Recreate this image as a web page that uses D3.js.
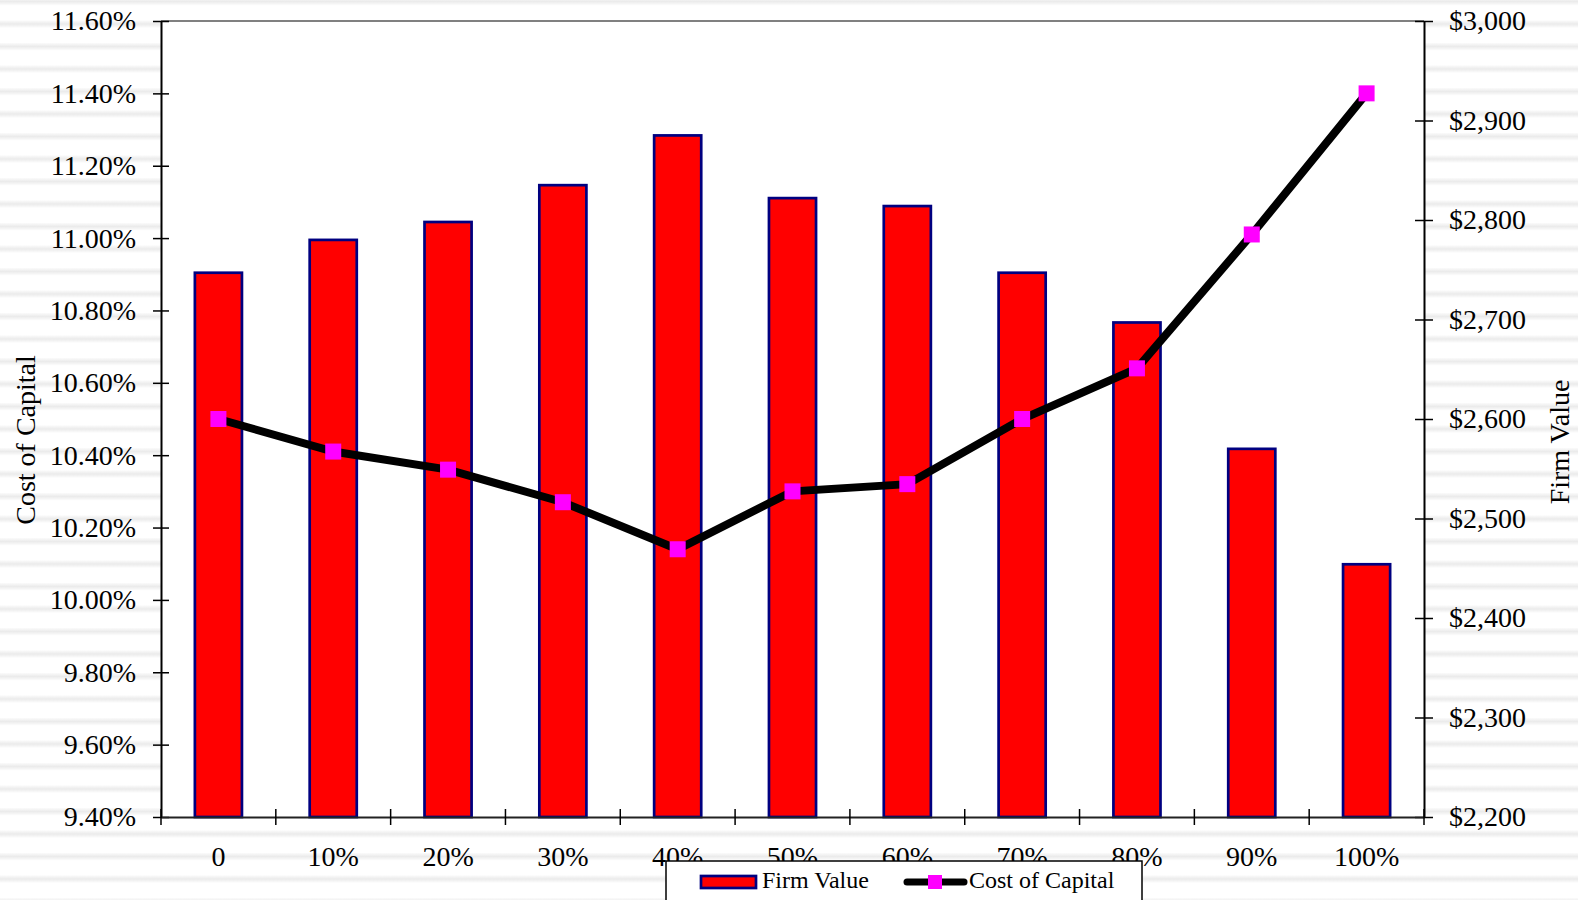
<!DOCTYPE html>
<html>
<head>
<meta charset="utf-8">
<script src="https://d3js.org/d3.v7.min.js"></script>
<style>
  html, body { margin: 0; padding: 0; background: #fff; }
  svg { display: block; }
  svg text { font-family: "Liberation Serif", "Times New Roman", serif; }
</style>
</head>
<body>
<div id="chart"></div>
<script>
// chart values
const categories = ["0", "10%", "20%", "30%", "40%", "50%", "60%", "70%", "80%", "90%", "100%"];
const firmValue = [2747, 2780, 2798, 2835, 2885, 2822, 2814, 2747, 2697, 2570, 2454];
const costOfCapital = [10.50, 10.41, 10.36, 10.27, 10.14, 10.30, 10.32, 10.50, 10.64, 11.01, 11.40];
const leftTicks = [9.4, 9.6, 9.8, 10.0, 10.2, 10.4, 10.6, 10.8, 11.0, 11.2, 11.4, 11.6];
const rightTicks = [2200, 2300, 2400, 2500, 2600, 2700, 2800, 2900, 3000];

const width = 1578, height = 900;
const plot = { left: 161, right: 1424, top: 21, bottom: 817 };
const serif = '"Liberation Serif", "Times New Roman", serif';

const svg = d3.select("#chart").append("svg")
    .attr("width", width)
    .attr("height", height);

// striped backdrop
const defs = svg.append("defs");
const grad = defs.append("linearGradient")
    .attr("id", "stripeGrad").attr("x1", 0).attr("y1", 0).attr("x2", 0).attr("y2", 1);
grad.append("stop").attr("offset", "0%").attr("stop-color", "#fbfbfb");
grad.append("stop").attr("offset", "50%").attr("stop-color", "#ebebeb");
grad.append("stop").attr("offset", "100%").attr("stop-color", "#fbfbfb");
const pat = defs.append("pattern")
    .attr("id", "stripes").attr("patternUnits", "userSpaceOnUse")
    .attr("x", 0).attr("y", -2).attr("width", 40).attr("height", 22.5);
pat.append("rect").attr("width", 40).attr("height", 22.5).attr("fill", "#ffffff");
pat.append("rect").attr("y", 0).attr("width", 40).attr("height", 7).attr("fill", "url(#stripeGrad)");
svg.append("rect").attr("width", width).attr("height", height).attr("fill", "url(#stripes)");

// plot area
svg.append("rect")
    .attr("x", plot.left).attr("y", plot.top)
    .attr("width", plot.right - plot.left).attr("height", plot.bottom - plot.top)
    .attr("fill", "#ffffff");

const x = d3.scaleBand().domain(categories).range([plot.left, plot.right]).padding(0);
const yLeft = d3.scaleLinear().domain([9.4, 11.6]).range([plot.bottom, plot.top]);
const yRight = d3.scaleLinear().domain([2200, 3000]).range([plot.bottom, plot.top]);

const barW = x.bandwidth() * 0.41;

// bars
svg.append("g").selectAll("rect")
    .data(firmValue)
    .enter().append("rect")
    .attr("x", (d, i) => x(categories[i]) + (x.bandwidth() - barW) / 2)
    .attr("y", d => yRight(d))
    .attr("width", barW)
    .attr("height", d => plot.bottom - yRight(d))
    .attr("fill", "#ff0000")
    .attr("stroke", "#000080")
    .attr("stroke-width", 2.7);

// top border
svg.append("line")
    .attr("x1", plot.left).attr("x2", plot.right)
    .attr("y1", plot.top).attr("y2", plot.top)
    .attr("stroke", "#808080").attr("stroke-width", 2);

const fontSize = 28;

// left axis
const gLeft = svg.append("g")
    .attr("transform", `translate(${plot.left},0)`)
    .call(d3.axisLeft(yLeft).tickValues(leftTicks).tickFormat(d => d.toFixed(2) + "%").tickSizeOuter(0))
    .attr("font-family", null).attr("font-size", null);
gLeft.select(".domain").attr("stroke", "#000").attr("stroke-width", 2);
gLeft.selectAll(".tick line").attr("x1", 8).attr("x2", -8).attr("stroke", "#000").attr("stroke-width", 1.5);
gLeft.selectAll(".tick text").attr("x", -25).attr("fill", "#000")
    .style("font-size", fontSize + "px").style("font-family", serif);

// right axis
const gRight = svg.append("g")
    .attr("transform", `translate(${plot.right},0)`)
    .call(d3.axisRight(yRight).tickValues(rightTicks).tickFormat(d => "$" + d3.format(",")(d)).tickSizeOuter(0))
    .attr("font-family", null).attr("font-size", null);
gRight.select(".domain").attr("stroke", "#000").attr("stroke-width", 2);
gRight.selectAll(".tick line").attr("x1", -9).attr("x2", 9).attr("stroke", "#000").attr("stroke-width", 1.5);
gRight.selectAll(".tick text").attr("x", 25).attr("fill", "#000")
    .style("font-size", fontSize + "px").style("font-family", serif);

// bottom axis: ticks sit on band edges
const gBottom = svg.append("g")
    .attr("transform", `translate(0,${plot.bottom})`)
    .call(d3.axisBottom(x).tickSize(0).tickSizeOuter(0))
    .attr("font-family", null).attr("font-size", null);
gBottom.select(".domain").attr("stroke", "#222").attr("stroke-width", 2);
gBottom.selectAll(".tick text").attr("y", 29).attr("dy", "0.71em").attr("fill", "#000")
    .style("font-size", fontSize + "px").style("font-family", serif);
gBottom.selectAll(".edge")
    .data(categories.concat([null]))
    .enter().append("line")
    .attr("x1", (d, i) => plot.left + i * x.step())
    .attr("x2", (d, i) => plot.left + i * x.step())
    .attr("y1", -8).attr("y2", 8)
    .attr("stroke", "#000").attr("stroke-width", 1.5);

// cost of capital line
const line = d3.line()
    .x((d, i) => x(categories[i]) + x.bandwidth() / 2)
    .y(d => yLeft(d));
svg.append("path")
    .datum(costOfCapital)
    .attr("d", line)
    .attr("fill", "none")
    .attr("stroke", "#000")
    .attr("stroke-width", 8);

const mk = 16;
svg.append("g").selectAll("rect")
    .data(costOfCapital)
    .enter().append("rect")
    .attr("x", (d, i) => x(categories[i]) + x.bandwidth() / 2 - mk / 2)
    .attr("y", d => yLeft(d) - mk / 2)
    .attr("width", mk).attr("height", mk)
    .attr("fill", "#ff00ff");

// axis titles
svg.append("text")
    .attr("transform", "translate(35,440) rotate(-90)")
    .attr("text-anchor", "middle")
    .style("font-size", fontSize + "px")
    .text("Cost of Capital");
svg.append("text")
    .attr("transform", "translate(1569,442) rotate(-90)")
    .attr("text-anchor", "middle")
    .style("font-size", fontSize + "px")
    .text("Firm Value");

// legend (drawn over the lower part of the category labels, as in the original)
const legend = svg.append("g");
legend.append("rect")
    .attr("x", 666).attr("y", 861).attr("width", 476).attr("height", 60)
    .attr("fill", "#fff").attr("stroke", "#000").attr("stroke-width", 1.5);
legend.append("rect")
    .attr("x", 701).attr("y", 876).attr("width", 55).attr("height", 12)
    .attr("fill", "#ff0000").attr("stroke", "#000080").attr("stroke-width", 2.7);
legend.append("text")
    .attr("x", 762).attr("y", 888).style("font-size", "24px")
    .text("Firm Value");
legend.append("line")
    .attr("x1", 907).attr("x2", 964).attr("y1", 882).attr("y2", 882)
    .attr("stroke", "#000").attr("stroke-width", 7).attr("stroke-linecap", "round");
legend.append("rect")
    .attr("x", 928).attr("y", 875).attr("width", 14).attr("height", 14)
    .attr("fill", "#ff00ff");
legend.append("text")
    .attr("x", 969).attr("y", 888).style("font-size", "24px")
    .text("Cost of Capital");
</script>
</body>
</html>
